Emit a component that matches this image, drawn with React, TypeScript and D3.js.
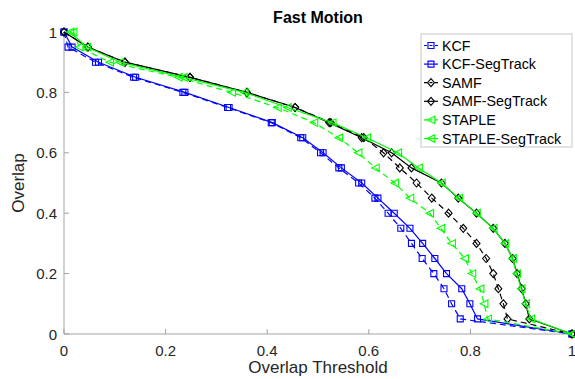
import React from "react";
import * as d3 from "d3";

const levels = [1, 0.95, 0.9, 0.85, 0.8, 0.75, 0.7, 0.65, 0.6, 0.55, 0.5, 0.45, 0.4, 0.35, 0.3, 0.25, 0.2, 0.15, 0.1, 0.05, 0];

const kcf = [0, 0.008, 0.062, 0.137, 0.234, 0.322, 0.408, 0.466, 0.505, 0.541, 0.58, 0.612, 0.638, 0.663, 0.684, 0.705, 0.728, 0.748, 0.763, 0.78, 1];
const kcfSeg = [0, 0.016, 0.068, 0.141, 0.238, 0.325, 0.41, 0.47, 0.51, 0.546, 0.586, 0.618, 0.65, 0.681, 0.706, 0.73, 0.753, 0.783, 0.799, 0.814, 1];
const samf = [0, 0.047, 0.12, 0.248, 0.36, 0.455, 0.525, 0.59, 0.629, 0.661, 0.694, 0.724, 0.757, 0.786, 0.812, 0.831, 0.845, 0.855, 0.865, 0.873, 1];
const samfSeg = [0, 0.047, 0.12, 0.248, 0.36, 0.455, 0.522, 0.586, 0.645, 0.684, 0.743, 0.776, 0.812, 0.845, 0.868, 0.883, 0.892, 0.901, 0.909, 0.916, 1];
const staple = [0.018, 0.03, 0.09, 0.225, 0.33, 0.42, 0.492, 0.541, 0.579, 0.613, 0.651, 0.681, 0.72, 0.742, 0.763, 0.789, 0.803, 0.819, 0.827, 0.834, 1];
const stapleSeg = [0.012, 0.045, 0.11, 0.235, 0.355, 0.44, 0.528, 0.596, 0.657, 0.698, 0.743, 0.777, 0.812, 0.845, 0.868, 0.883, 0.891, 0.9, 0.909, 0.919, 1];

const seriesNames = ["KCF", "KCF-SegTrack", "SAMF", "SAMF-SegTrack", "STAPLE", "STAPLE-SegTrack"];
const seriesX = [kcf, kcfSeg, samf, samfSeg, staple, stapleSeg];
const seriesColors = ["#0000ff", "#0000ff", "#000000", "#000000", "#00ff00", "#00ff00"];
const seriesDashed = [true, false, true, false, true, false];
const seriesMarkers = ["square", "square", "diamond", "diamond", "triangle", "triangle"];

const xTicks = [0, 0.2, 0.4, 0.6, 0.8, 1];
const yTicks = [0, 0.2, 0.4, 0.6, 0.8, 1];
const tickLabels = ["0", "0.2", "0.4", "0.6", "0.8", "1"];

const W = 575;
const H = 379;
const left = 64;
const right = 572;
const top = 32;
const bottom = 334;

function markerPath(kind: string, x: number, y: number): string {
  if (kind === "square") {
    const r = 3;
    return `M${x - r},${y - r}L${x + r},${y - r}L${x + r},${y + r}L${x - r},${y + r}Z`;
  }
  if (kind === "diamond") {
    const a = 3.5;
    const b = 4;
    return `M${x},${y - b}L${x + a},${y}L${x},${y + b}L${x - a},${y}Z`;
  }
  const r = 3.8;
  return `M${x - r},${y}L${x + r},${y - r}L${x + r},${y + r}Z`;
}

export default function App() {
  const xs = d3.scaleLinear().domain([0, 1]).range([left, right]);
  const ys = d3.scaleLinear().domain([0, 1]).range([bottom, top]);
  const line = d3
    .line<[number, number]>()
    .x((d) => xs(d[0]))
    .y((d) => ys(d[1]));

  const font = "Arial, 'Liberation Sans', Helvetica, sans-serif";
  const axisColor = "#a3a3a3";
  const textColor = "#262626";

  const legX = 421;
  const legY = 34;
  const legW = 151;
  const legH = 113;
  const legRow = 18.6;

  return (
    <svg
      width={W}
      height={H}
      style={{ position: "fixed", left: 0, top: 0, background: "#fff" }}
      fontFamily={font}
    >
      <rect x={0} y={0} width={W} height={H} fill="#fff" />
      <line x1={left} y1={bottom} x2={right} y2={bottom} stroke={axisColor} strokeWidth={1} />
      <line x1={left} y1={top} x2={left} y2={bottom} stroke={axisColor} strokeWidth={1} />
      {xTicks.map((t, i) => (
        <g key={"xt" + i}>
          <line x1={xs(t)} x2={xs(t)} y1={bottom} y2={bottom - 5} stroke={axisColor} />
          <text x={xs(t)} y={356} fontSize={15} fill={textColor} textAnchor="middle">
            {tickLabels[i]}
          </text>
        </g>
      ))}
      {yTicks.map((t, i) => (
        <g key={"yt" + i}>
          <line x1={left} x2={left + 5} y1={ys(t)} y2={ys(t)} stroke={axisColor} />
          <text x={57} y={ys(t) + 5.5} fontSize={15} fill={textColor} textAnchor="end">
            {tickLabels[i]}
          </text>
        </g>
      ))}
      <text x={(left + right) / 2} y={373} fontSize={17} fill={textColor} textAnchor="middle">
        Overlap Threshold
      </text>
      <text
        transform={`translate(24,${(top + bottom) / 2}) rotate(-90)`}
        fontSize={17}
        fill={textColor}
        textAnchor="middle"
      >
        Overlap
      </text>
      <text x={(left + right) / 2} y={23} fontSize={16} fontWeight="bold" fill="#000" textAnchor="middle">
        Fast Motion
      </text>

      {seriesX.map((xv, si) => {
        const pts: [number, number][] = xv.map((x, i) => [x, levels[i]]);
        return (
          <g key={"s" + si}>
            <path
              d={line(pts) || ""}
              fill="none"
              stroke={seriesColors[si]}
              strokeWidth={1.2}
              strokeDasharray={seriesDashed[si] ? "6,4" : undefined}
            />
            {pts.map((p, i) => (
              <path
                key={i}
                d={markerPath(seriesMarkers[si], xs(p[0]), ys(p[1]))}
                fill="none"
                stroke={seriesColors[si]}
                strokeWidth={1.1}
              />
            ))}
          </g>
        );
      })}

      <rect x={legX} y={legY} width={legW} height={legH} fill="#fff" stroke="#c8c8c8" strokeWidth={1} />
      {seriesNames.map((name, i) => {
        const cy = legY + 11.5 + i * legRow;
        return (
          <g key={"l" + i}>
            <line
              x1={424}
              x2={438}
              y1={cy}
              y2={cy}
              stroke={seriesColors[i]}
              strokeWidth={1.2}
              strokeDasharray={seriesDashed[i] ? "3,2.5" : undefined}
            />
            <path d={markerPath(seriesMarkers[i], 431, cy)} fill="none" stroke={seriesColors[i]} strokeWidth={1.1} />
            <text x={442} y={cy + 5} fontSize={14.3} fill="#000">
              {name}
            </text>
          </g>
        );
      })}
    </svg>
  );
}
